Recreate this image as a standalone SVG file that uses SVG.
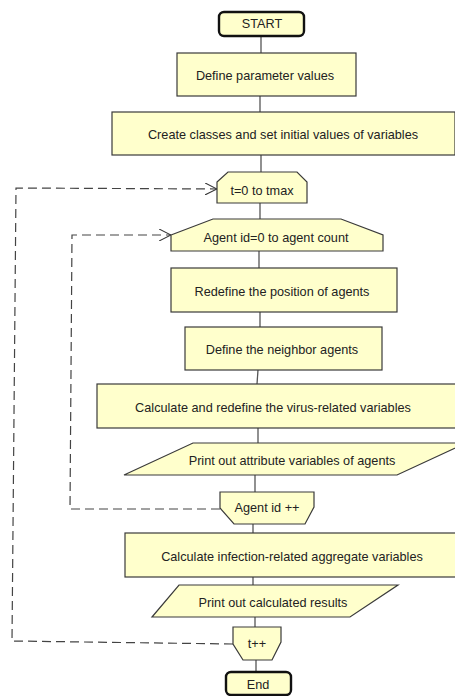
<svg xmlns="http://www.w3.org/2000/svg" width="455" height="696" viewBox="0 0 455 696">
<defs>
<style>
.n{fill:#FFFFCC;stroke:#3a3a3a;stroke-width:1.2}
.t{fill:#FFFFCC;stroke:#111;stroke-width:2.4}
.c{stroke:#555;stroke-width:1.3;fill:none}
.d{stroke:#444;stroke-width:1.2;fill:none;stroke-dasharray:9 5}
text{font-family:"Liberation Sans",Arial,sans-serif;font-size:12.7px;fill:#222;text-anchor:middle;dominant-baseline:central}
</style>
<marker id="ah" viewBox="0 0 12 12" refX="12" refY="6" markerWidth="12" markerHeight="12" markerUnits="userSpaceOnUse" orient="auto">
<path d="M0,0 L12,6 L0,12" fill="none" stroke="#333" stroke-width="1.1" stroke-dasharray="none"/>
</marker>
</defs>
<rect width="455" height="696" fill="#fff"/>
<g id="connectors">
<line class="c" x1="261" y1="36" x2="261" y2="53"/>
<line class="c" x1="260" y1="96" x2="260" y2="112"/>
<line class="c" x1="261" y1="155" x2="261" y2="172"/>
<line class="c" x1="260" y1="203" x2="260" y2="219"/>
<line class="c" x1="259" y1="251" x2="259" y2="268"/>
<line class="c" x1="260" y1="312" x2="260" y2="327"/>
<line class="c" x1="258" y1="370" x2="257" y2="384"/>
<line class="c" x1="258" y1="428" x2="258" y2="443"/>
<line class="c" x1="255" y1="475" x2="255" y2="492"/>
<line class="c" x1="253" y1="524" x2="253" y2="533"/>
<line class="c" x1="253" y1="577" x2="253" y2="585"/>
<line class="c" x1="255" y1="617" x2="255" y2="627"/>
<line class="c" x1="256" y1="660" x2="256" y2="672"/>
<path class="d" d="M233,644 L12,641 L16,188 L217,189" marker-end="url(#ah)"/>
<path class="d" d="M220,509 L70,509 L72,235 L171,235" marker-end="url(#ah)"/>
</g>
<g id="start"><rect class="t" x="219" y="12" width="85" height="24" rx="5"/><text x="262" y="24">START</text></g>
<g id="define-params"><rect class="n" x="177" y="53" width="179" height="43"/><text x="265" y="76">Define parameter values</text></g>
<g id="create-classes"><rect class="n" x="112" y="112" width="343" height="43"/><text x="283" y="135">Create classes and set initial values of variables</text></g>
<g id="t-loop"><polygon class="n" points="217,182 228,172 297,172 307,182 307,203 217,203"/><text x="262" y="191">t=0 to tmax</text></g>
<g id="agent-loop"><polygon class="n" points="171,235 213,219 341,219 383,235 383,251 171,251"/><text x="276" y="238">Agent id=0 to agent count</text></g>
<g id="redefine-position"><rect class="n" x="171" y="268" width="226" height="44"/><text x="282" y="292">Redefine the position of agents</text></g>
<g id="define-neighbor"><rect class="n" x="185" y="327" width="197" height="43"/><text x="282" y="350">Define the neighbor agents</text></g>
<g id="calc-virus"><rect class="n" x="97" y="384" width="359" height="44"/><text x="273" y="408">Calculate and redefine the virus-related variables</text></g>
<g id="print-attr"><polygon class="n" points="193,443 466,443 397,475 124,475"/><text x="292" y="461">Print out attribute variables of agents</text></g>
<g id="agent-inc"><polygon class="n" points="220,492 314,492 314,507 305,524 234,524 220,508"/><text x="267" y="508">Agent id ++</text></g>
<g id="calc-infection"><rect class="n" x="125" y="533" width="331" height="44"/><text x="292" y="557">Calculate infection-related aggregate variables</text></g>
<g id="print-results"><polygon class="n" points="179,585 398,585 350,617 152,617"/><text x="273" y="603">Print out calculated results</text></g>
<g id="t-inc"><polygon class="n" points="233,627 281,627 281,642 272,660 243,660 233,644"/><text x="257" y="644">t++</text></g>
<g id="end"><rect class="t" x="226" y="672" width="65" height="23" rx="5"/><text x="258" y="685">End</text></g>
</svg>
